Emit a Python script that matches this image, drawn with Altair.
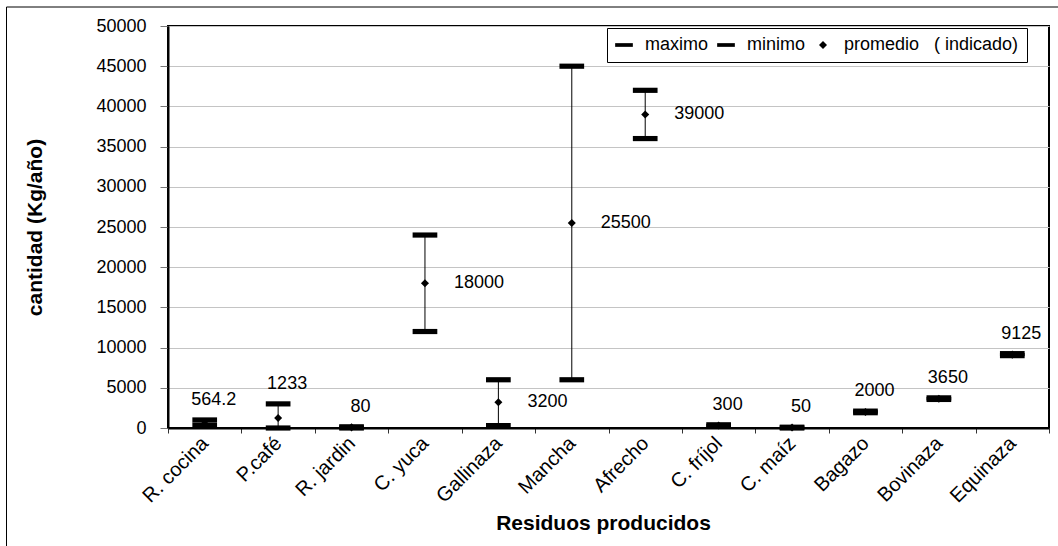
import altair as alt
import pandas as pd

# ---- data ----
categorias = ["R. cocina", "P.café", "R. jardin", "C. yuca", "Gallinaza", "Mancha",
              "Afrecho", "C. fríjol", "C. maíz", "Bagazo", "Bovinaza", "Equinaza"]
maximos = [1000, 3000, 150, 24000, 6000, 45000, 42000, 400, 100, 2100, 3750, 9250]
minimos = [350, 0, 0, 12000, 300, 6000, 36000, 200, 0, 1900, 3550, 9000]
promedios = [564.2, 1233, 80, 18000, 3200, 25500, 39000, 300, 50, 2000, 3650, 9125]
etiquetas = ["564.2", "1233", "80", "18000", "3200", "25500", "39000", "300", "50",
             "2000", "3650", "9125"]
etiqueta_a_la_derecha = ["C. yuca", "Gallinaza", "Mancha", "Afrecho"]
ticks_y = [0, 5000, 10000, 15000, 20000, 25000, 30000, 35000, 40000, 45000, 50000]

SERIES = ["maximo", "minimo", "promedio"]
DASH = "M-1,-0.21H1V0.21H-1Z"
DIAMOND = "M0,-0.45L0.45,0L0,0.45L-0.45,0Z"
FONT = "Liberation Sans"

df = pd.DataFrame({"cat": categorias, "max": maximos, "min": minimos,
                   "avg": promedios, "lab": etiquetas})
df["derecha"] = df["cat"].isin(etiqueta_a_la_derecha)

ext = pd.concat([
    pd.DataFrame({"cat": categorias, "valor": maximos, "serie": "maximo"}),
    pd.DataFrame({"cat": categorias, "valor": minimos, "serie": "minimo"}),
])
prom = pd.DataFrame({"cat": categorias, "valor": promedios, "serie": "promedio"})

xscale = alt.Scale(type="band", domain=categorias, paddingInner=0, paddingOuter=0)
yscale = alt.Scale(domain=[0, 50000], nice=False)
shape_scale = alt.Scale(domain=SERIES, range=[DASH, DASH, DIAMOND])

X = alt.X("cat:N", scale=xscale, sort=categorias, title="Residuos producidos",
          axis=alt.Axis(labelAngle=-45, labelAlign="right", labelBaseline="middle",
                        labelPadding=7, labelFontSize=20, labelFont=FONT, labelColor="black",
                        tickBand="extent", tickSize=5, tickColor="#333", grid=False,
                        domainColor="black", domainWidth=2,
                        titleFontSize=21, titleFont=FONT, titleFontWeight="bold",
                        titleColor="black", titleX=435, titleY=95, titleBaseline="middle",
                        titleAlign="center"))

Y_AX = alt.Axis(values=ticks_y, format="d", labelFontSize=18, labelFont=FONT,
                labelColor="black", labelPadding=14, tickSize=8, tickColor="#777",
                grid=True, gridColor="#c4c4c4", gridWidth=1,
                domainColor="black", domainWidth=2,
                title="cantidad (Kg/año)", titleFontSize=21, titleFont=FONT,
                titleFontWeight="bold", titleColor="black", titleAngle=-90,
                titleX=-133, titleY=201, titleAlign="center", titleBaseline="middle")

frame = alt.Chart(pd.DataFrame({"k": [0]})).mark_rect(
    fill=None, stroke="black", strokeWidth=1
).encode(x=alt.value(-161.5), x2=alt.value(960), y=alt.value(-19), y2=alt.value(600))

rules = alt.Chart(df).mark_rule(color="black", strokeWidth=1).encode(
    x=X, y=alt.Y("min:Q", scale=yscale, axis=Y_AX), y2="max:Q")

legend = alt.Legend(title=None, orient="none", legendX=439, legendY=2,
                    direction="horizontal", strokeColor="black", fillColor="white",
                    padding=8, symbolSize=313, symbolFillColor="black",
                    symbolStrokeWidth=0, labelFontSize=18, labelFont=FONT,
                    labelColor="black", columnPadding=8, labelOffset=12, labelLimit=400,
                    labelExpr="datum.label == 'promedio' ? 'promedio\u00a0\u00a0\u00a0( indicado)' : datum.label")

extremos = alt.Chart(ext).mark_point(filled=True, color="black", size=610, opacity=1,
                                     strokeWidth=0).encode(
    x=X, y=alt.Y("valor:Q", scale=yscale),
    shape=alt.Shape("serie:N", scale=shape_scale, legend=legend))

medias = alt.Chart(prom).mark_point(filled=True, color="black", size=320, opacity=1,
                                    strokeWidth=0).encode(
    x=X, y=alt.Y("valor:Q", scale=yscale),
    shape=alt.Shape("serie:N", scale=shape_scale, legend=legend))

txt_arriba = alt.Chart(df).transform_filter("!datum.derecha").mark_text(
    fontSize=18, font=FONT, color="black", dx=9, dy=-20, baseline="middle", align="center"
).encode(x=X, y=alt.Y("max:Q", scale=yscale), text="lab:N")

txt_derecha = alt.Chart(df).transform_filter("datum.derecha").mark_text(
    fontSize=18, font=FONT, color="black", dx=29, baseline="middle", align="left"
).encode(x=X, y=alt.Y("avg:Q", scale=yscale), text="lab:N")

chart = alt.layer(frame, rules, extremos, medias, txt_arriba, txt_derecha).properties(
    width=881, height=402,
    autosize=alt.AutoSizeParams(type="none"),
    padding={"left": 168, "top": 26, "right": 9, "bottom": 118},
    background="white",
).configure_view(stroke="black", strokeWidth=2)

chart.save("out.html", embed_options={"renderer": "svg", "actions": False})
